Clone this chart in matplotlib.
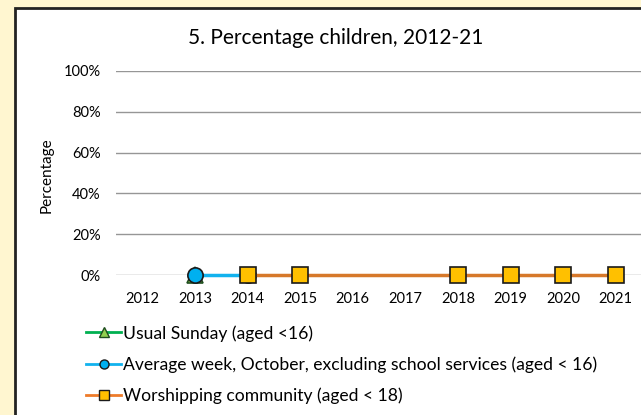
import matplotlib
matplotlib.use("Agg")
import matplotlib.pyplot as plt
from matplotlib.patches import Rectangle
from matplotlib.lines import Line2D
import numpy as np

years = ["2012", "2013", "2014", "2015", "2016", "2017", "2018", "2019", "2020", "2021"]
usual_sunday = [None, 0.0, None, None, None, None, None, None, None, None]
average_week = [None, 0.0, 0.0, None, None, None, None, None, None, None]
worshipping = [None, None, 0.0, 0.0, None, None, 0.0, 0.0, 0.0, 0.0]
yticks = [0, 0.2, 0.4, 0.6, 0.8, 1.0]
ytick_labels = ["0%", "20%", "40%", "60%", "80%", "100%"]
labels = ["Usual Sunday (aged <16)",
          "Average week, October, excluding school services (aged < 16)",
          "Worshipping community (aged < 18)"]
title = "5. Percentage children, 2012-21"

plt.rcParams['font.family'] = ['Lato', 'DejaVu Sans']

W, H = 641, 415
fig = plt.figure(figsize=(W / 100, H / 100), dpi=100)
fig.patch.set_facecolor("#FFF6D0")

# inner white panel with dark border and grey shadow
fig.patches.append(Rectangle((17 / W, -0.1), 1.2, (H - 10) / H + 0.1,
                             transform=fig.transFigure, facecolor="#9a9a9a",
                             edgecolor="none", zorder=0))
fig.patches.append(Rectangle((15 / W, -0.1), 1.2, (H - 8) / H + 0.1,
                             transform=fig.transFigure, facecolor="white",
                             edgecolor="#222222", linewidth=2, zorder=0.5))

ax = fig.add_axes([116 / W, 1 - 275 / H, (642 - 116) / W, (275 - 71) / H])
ax.set_zorder(2)
ax.set_facecolor("none")
x = np.arange(len(years))

def series(vals):
    xs = [xi for xi, v in zip(x, vals) if v is not None]
    ys = [v for v in vals if v is not None]
    return xs, ys

styles = [
    dict(color="#00B050", lcolor="#00B050", marker="^", mfc="#92D050", mec="#1F4E1F", ms=12),
    dict(color="#12B2EE", lcolor="#12B2EE", marker="o", mfc="#00B0F0", mec="#1a1a1a", ms=11),
    dict(color="#D6782A", lcolor="#EE7B2A", marker="s", mfc="#FFC000", mec="#1a1a1a", ms=11),
]
for vals, st, z in zip([usual_sunday, average_week, worshipping], styles, [3, 4, 5]):
    xs, ys = series(vals)
    ax.plot(xs, ys, color=st["color"], lw=2.5, marker=st["marker"],
            markerfacecolor=st["mfc"], markeredgecolor=st["mec"],
            markersize=st["ms"], markeredgewidth=1.2, zorder=z, clip_on=False)

ax.set_xlim(-0.5, len(years) - 0.5)
ax.set_ylim(0, 1)
ax.set_xticks(x)
ax.set_xticklabels(years)
ax.set_yticks(yticks)
ax.set_yticklabels(ytick_labels)
ax.tick_params(length=0, labelsize=10.5, colors="black")
ax.tick_params(axis="y", pad=11)
ax.tick_params(axis="x", pad=12)
ax.grid(axis="y", color="#969696", lw=1)
for s in ax.spines.values():
    s.set_visible(False)
ax.set_axisbelow(True)

fig.text(336 / W, 1 - 38 / H, title, ha="center", va="center", fontsize=15)
fig.text(47 / W, 1 - 175 / H, "Percentage", ha="center", va="center",
         rotation=90, fontsize=11)

handles = [Line2D([], [], color=st["lcolor"], lw=2, marker=st["marker"],
                  markerfacecolor=st["mfc"], markeredgecolor=st["mec"],
                  markersize=6.5, markeredgewidth=1) for st in styles]
fig.legend(handles, labels, loc="upper left", bbox_to_anchor=(79 / W, 1 - 318 / H),
           frameon=False, fontsize=12.6, handlelength=2.0, handletextpad=0.1,
           labelspacing=0.85, borderaxespad=0)

fig.savefig("out.png", dpi=100, facecolor=fig.get_facecolor())
